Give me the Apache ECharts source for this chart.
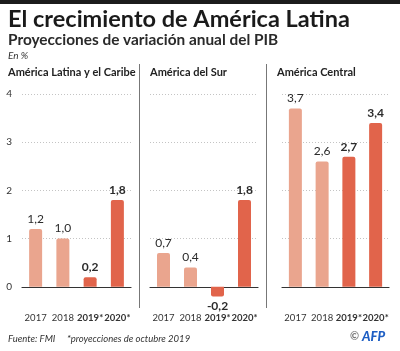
<!DOCTYPE html>
<html>
<head>
<meta charset="utf-8">
<script src="https://cdn.jsdelivr.net/npm/echarts@6/dist/echarts.min.js"></script>
<style>
  html, body { margin: 0; padding: 0; background: #fff; }
  #chart { width: 400px; height: 351px; }
</style>
</head>
<body>
<div id="chart"></div>
<script>
// datos (FMI, en %)
var years = ['2017', '2018', '2019*', '2020*'];
var regions = ['América Latina y el Caribe', 'América del Sur', 'América Central'];
var latam = [1.2, 1.0, 0.2, 1.8];
var sur = [0.7, 0.4, -0.2, 1.8];
var central = [3.7, 2.6, 2.7, 3.4];
var yMin = -1, yMax = 4, yStep = 1;

var font = 'Lato';
var light = '#eaa58e';
var dark = '#e1644b';

var chart = echarts.init(document.getElementById('chart'));

function fmt(v) {
    return v.toFixed(1).replace('.', ',');
}

function makeSeries(vals, idx) {
    return {
        type: 'bar',
        xAxisIndex: idx,
        yAxisIndex: idx,
        barWidth: 13,
        silent: true,
        data: vals.map(function (v, i) {
            return {
                value: v,
                itemStyle: {
                    color: i < 2 ? light : dark,
                    borderRadius: v < 0 ? [0, 0, 2, 2] : [2, 2, 0, 0]
                },
                label: {
                    position: v < 0 ? 'bottom' : 'top',
                    fontWeight: i < 2 ? 'normal' : 'bold'
                }
            };
        }),
        label: {
            show: true,
            distance: 4,
            fontFamily: font,
            fontSize: 12,
            color: '#2b2b2b',
            formatter: function (p) { return fmt(p.value); }
        }
    };
}

var grids = [
    { left: 22, width: 109, top: 94, height: 241 },
    { left: 150, width: 108, top: 94, height: 241 },
    { left: 282, width: 107, top: 94, height: 241 }
].map(function (g) {
    g.containLabel = false;
    g.outerBoundsMode = 'none';
    return g;
});

var xAxes = grids.map(function (g, i) {
    return {
        type: 'category',
        gridIndex: i,
        data: years,
        axisLine: { onZero: true, lineStyle: { color: '#333', width: 1.2 } },
        axisTick: { show: false },
        axisLabel: {
            interval: 0,
            margin: -22,
            hideOverlap: false,
            fontFamily: font,
            fontSize: 9.5,
            color: '#333',
            formatter: function (v) {
                return v.indexOf('*') > 0 ? '{b|' + v + '}' : v;
            },
            rich: { b: { fontFamily: font, fontSize: 9.5, fontWeight: 'bold', color: '#333' } }
        }
    };
});

var yAxes = grids.map(function (g, i) {
    return {
        type: 'value',
        gridIndex: i,
        min: yMin,
        max: yMax,
        interval: yStep,
        axisLine: { show: false },
        axisTick: { show: false },
        axisLabel: {
            show: i === 0,
            showMinLabel: false,
            margin: 10,
            fontFamily: font,
            fontSize: 10,
            color: '#333'
        },
        splitLine: {
            showMinLine: false,
            lineStyle: { color: '#c4c4c4', type: [1, 2], width: 1 }
        }
    };
});

var headerX = [8, 150, 277];

var graphic = [
    { type: 'rect', left: 0, top: 0, shape: { width: 400, height: 4 }, style: { fill: '#1c1c1c' } },
    { type: 'text', left: 8, top: 7, style: { text: 'El crecimiento de América Latina', font: 'bold 23.5px ' + font, fill: '#1a1a1a' } },
    { type: 'text', left: 8, top: 33, style: { text: 'Proyecciones de variación anual del PIB', font: 'bold 15.4px ' + font, fill: '#2a2a2a' } },
    { type: 'text', left: 8, top: 51, style: { text: 'En %', font: 'italic 10px ' + font, fill: '#333' } },
    { type: 'line', shape: { x1: 139.5, y1: 64, x2: 139.5, y2: 308 }, style: { stroke: '#777', lineWidth: 1 } },
    { type: 'line', shape: { x1: 266.5, y1: 64, x2: 266.5, y2: 308 }, style: { stroke: '#777', lineWidth: 1 } },
    { type: 'text', left: 8, top: 334, style: { text: 'Fuente: FMI', font: 'italic 9.5px ' + font, fill: '#333' } },
    { type: 'text', left: 67, top: 334, style: { text: '*proyecciones de octubre 2019', font: 'italic 9.5px ' + font, fill: '#333' } },
    { type: 'text', left: 350, top: 331, style: { text: '©', font: 'bold 11px ' + font, fill: '#777' } },
    { type: 'text', left: 362, top: 330, style: { text: 'AFP', font: 'italic 900 13px ' + font, fill: '#1f5fc4' } }
];

regions.forEach(function (r, i) {
    graphic.push({ type: 'text', left: headerX[i], top: 67, style: { text: r, font: 'bold 11px ' + font, fill: '#222' } });
});

chart.setOption({
    animation: false,
    backgroundColor: '#fff',
    grid: grids,
    xAxis: xAxes,
    yAxis: yAxes,
    series: [makeSeries(latam, 0), makeSeries(sur, 1), makeSeries(central, 2)],
    graphic: graphic
});
</script>
</body>
</html>
